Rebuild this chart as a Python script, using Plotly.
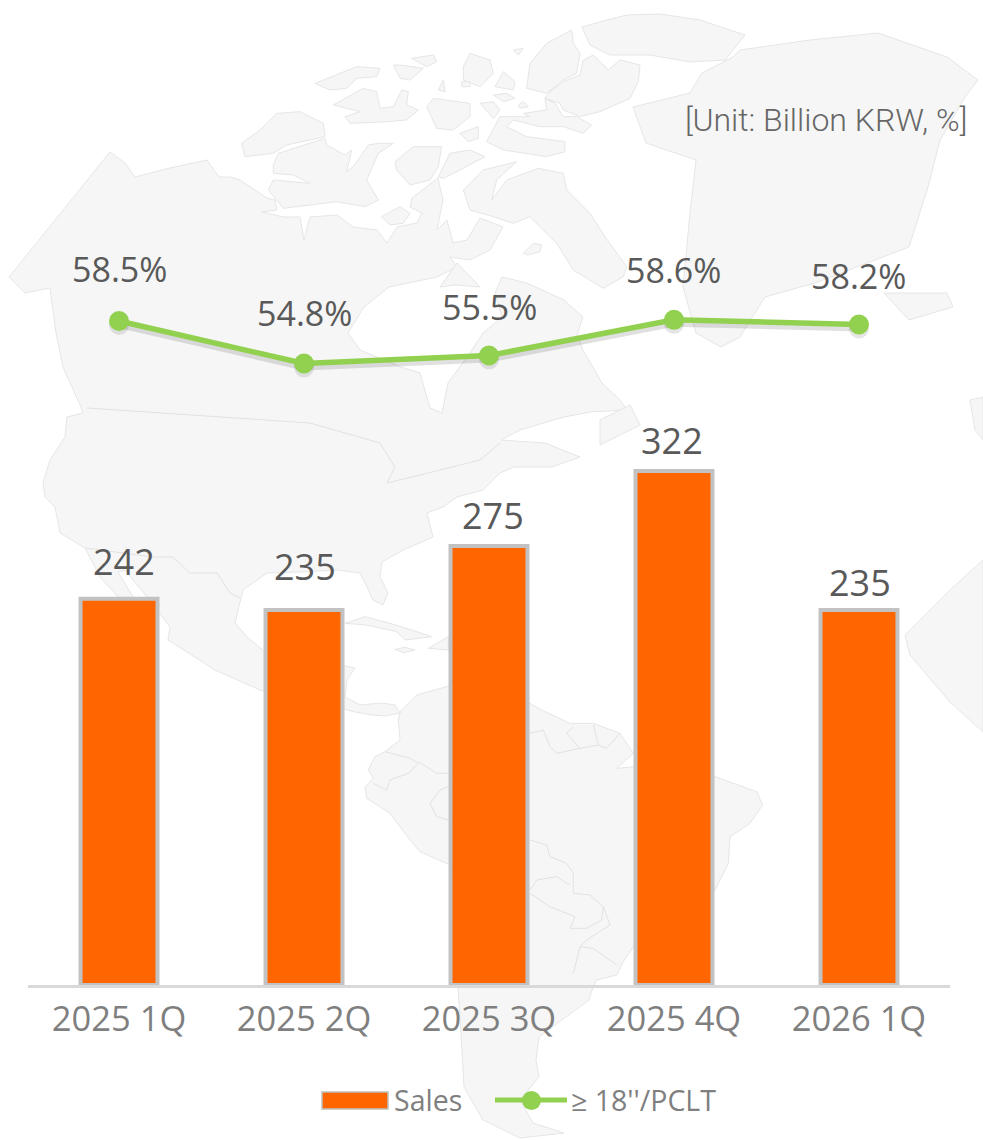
import plotly.graph_objects as go

W, H = 983, 1140

quarters = ["2025 1Q", "2025 2Q", "2025 3Q", "2025 4Q", "2026 1Q"]
sales = [242, 235, 275, 322, 235]
share = [58.5, 54.8, 55.5, 58.6, 58.2]
share_text = ["58.5%", "54.8%", "55.5%", "58.6%", "58.2%"]

# label placement, in pixels from the mark
sales_dx = [5, 1, 4, -2, 1]
sales_dy = [37, 43, 31, 31, 27]
share_dy = [52, 51, 48, 50, 48]

TEXT = "Open Sans"
DARK = "#595959"
GREY = "#7f7f7f"
ORANGE = "#ff6600"
GREEN = "#92d050"


# Decorative backdrop map. Outlines are page pixels, or read in 3x crops of the page.
def crop(points, ox, oy):
    return [(ox + x / 3, oy + y / 3) for x, y in points]


def arctic(points):
    return crop(points, 230, 10)


def south(points):
    return crop(points, 340, 570)


map_land = [
    # North and Central America
    [(110,152),(125,163),(135,177),(170,168),(207,160),(219,177),(230,177),(240,180),(267,198),(275,200),(277,210),(262,212),
     (283,217),(300,217),(304,240),(310,217),(337,215),(353,227),(377,230),(387,243),(397,227),(417,223),(422,213),(410,207),
     (412,198),(438,178),(443,200),(437,230),(447,220),(453,243),(467,240),(480,218),(503,227),(490,250),(470,260),(450,257),
     (457,267),(437,277),(389,287),(364,307),(348,333),(360,350),(401,367),(420,373),(430,408),(442,413),
     (448,383),(470,353),(483,333),(502,317),(495,293),(502,277),(527,283),(564,300),(583,317),(577,335),(583,350),(602,383),
     (620,400),(627,410),(590,412),(564,417),(520,430),(501,440),(545,443),(580,457),(552,467),(514,467),(500,473),(483,490),
     (457,497),(443,507),(427,513),(433,537),(403,550),(382,562),(380,577),(388,593),(383,605),(373,600),(367,587),(360,573),
     (337,570),(300,572),(267,573),(243,590),(238,610),(235,623),(247,637),(263,650),(300,670),(330,668),(340,665),(355,668),
     (347,680),(345,697),(360,705),(382,703),(395,705),(400,713),(385,716),(372,715),(355,712),(340,708),(300,703),(260,690),
     (215,670),(168,640),(170,627),(147,597),(125,570),(118,572),(135,600),(150,632),(130,610),(100,577),(85,548),(60,533),
     (55,507),(45,497),(43,483),(50,460),(65,437),(67,417),(83,413),(81,407),(63,367),(56,333),(50,288),(25,293),(9,277)],
    # South America
    south([(175,450),(180,430),(185,420),(230,375),(320,350),(450,340),(570,400),(605,420),(690,460),(760,460),(840,490),(880,550),
           (830,595),(885,590),(1000,600),(1125,620),(1250,665),(1268,705),(1230,760),(1170,800),(1165,880),(1125,960),(1100,1000),
           (1000,1080),(880,1130),(850,1175),(830,1215),(770,1230)])
    + [(592,990),(589,1000),(539,1037),(536,1060),(539,1077),(520,1100),(533,1123),(564,1133),(520,1138),(483,1120),
       (464,1087),(461,1033),(458,987)]
    + south([(330,885),(240,845),(210,810),(150,730),(80,685),(75,650),(100,625),(85,600),(105,560),(135,545),(180,510)]),
    # Greenland
    [(740,50),(810,40),(878,33),(947,57),(978,80),(965,97),(940,140),(928,187),(909,247),(815,283),(765,297),(740,337),(721,347),
     (696,333),(683,287),(690,213),(696,160),(646,143),(633,107),(690,93),(702,73),(733,57)],
    # Arctic islands
    arctic([(35,400),(90,360),(140,310),(210,305),(280,340),(285,380),(170,405),(130,430),(45,440)]),
    arctic([(130,465),(145,430),(285,385),(290,405),(345,435),(365,420),(350,485),(370,470),(415,405),(445,400),(490,400),(445,430),
            (410,510),(445,570),(405,590),(320,575),(160,595),(115,540),(130,510),(240,520),(190,495),(130,490)]),
    arctic([(495,455),(550,410),(635,410),(625,470),(600,510),(540,525),(500,480)]),
    arctic([(625,500),(660,430),(720,420),(765,440),(690,480),(640,505)]),
    arctic([(700,540),(760,480),(860,455),(800,510),(785,570),(830,510),(925,475),(1000,490),(1010,540),(1080,610),(1125,680),
            (1190,770),(1180,800),(1120,835),(1030,780),(980,700),(900,620),(850,640),(790,620),(720,600)]),
    arctic([(255,220),(380,170),(450,175),(440,200),(380,205),(350,235),(300,240)]),
    arctic([(310,285),(400,235),(440,245),(450,295),(490,290),(515,240),(535,245),(530,285),(565,300),(530,330),(470,335),(360,340),
            (345,320),(390,305)]),
    arctic([(490,165),(510,165),(580,175),(540,210),(510,205)]),
    arctic([(545,145),(610,135),(620,155),(590,170)]),
    arctic([(775,385),(810,320),(900,320),(880,310),(950,300),(945,265),(975,280),(1000,320),(1040,320),(1085,345),(1060,370),
            (1000,350),(930,350),(850,330),(830,350),(890,380),(1005,395),(1005,425),(950,440),(820,420),(770,395)]),
    arctic([(590,290),(610,265),(720,280),(720,320),(670,360),(620,355)]),
    arctic([(690,370),(745,350),(745,385),(715,395)]),
    arctic([(750,280),(790,275),(810,300),(790,325)]),
    arctic([(890,235),(900,160),(950,100),(1025,60),(1030,100),(1050,130),(1040,190),(1000,210),(950,250)]),
    arctic([(960,245),(1000,215),(1050,195),(1060,150),(1090,135),(1135,180),(1170,150),(1230,165),(1225,215),(1200,265),(1110,305),
            (1050,320),(1000,300),(990,280),(945,265)]),
    [(582,27),(607,20),(627,15),(660,14),(700,20),(745,35),(725,60),(690,62),(650,55),(610,55),(590,45)],
    arctic([(700,170),(720,130),(780,150),(790,190),(750,230),(700,210)]),
    arctic([(795,230),(820,185),(855,215),(850,240)]),
    arctic([(790,255),(830,250),(855,265),(820,275)]),
    arctic([(625,240),(640,210),(645,245)]),
    arctic([(695,215),(720,215),(720,230),(695,230)]),
    arctic([(850,120),(880,115),(865,135)]),
    arctic([(865,285),(880,275),(895,290),(870,295)]),
    arctic([(455,620),(510,590),(540,610),(520,640),(480,645)]),
    arctic([(880,730),(910,700),(935,705),(930,725),(895,735)]),
    [(440,287),(457,263),(480,287),(455,285)],
    # Newfoundland, Iceland
    [(600,420),(630,405),(640,425),(600,445)],
    [(884,293),(947,293),(953,307),(909,320)],
    # Caribbean
    south([(15,160),(75,140),(150,160),(215,180),(275,200),(195,210),(170,185),(80,165)]),
    south([(165,238),(195,232),(225,240),(190,248)]),
    south([(265,235),(325,200),(325,240)]),
    # Africa and Europe at the right edge
    [(905,635),(950,590),(983,560),(983,732),(950,702),(910,655)],
    [(970,400),(983,397),(983,440),(975,430)],
]
map_borders = [
    [(87,408),(310,423),(380,443),(395,467),(387,483),(420,475),(480,460),(500,443)],
    [(85,548),(153,557),(173,557),(190,573),(217,573),(230,593),(240,598)],
    south([(135,545),(210,565),(235,580),(205,610),(150,630),(140,660),(100,640)]),
    south([(235,575),(290,610),(325,610)]),
    south([(325,650),(300,660),(270,700),(290,740),(325,750)]),
    south([(570,810),(620,825),(630,860),(680,880),(700,910),(700,970),(750,975),(790,1010),(785,1050),(740,1075),(690,1075),
           (705,1040),(630,1010),(570,970)]),
    south([(570,960),(590,930),(650,920),(690,945)]),
    south([(790,1010),(810,1065),(740,1110),(720,1130),(760,1135),(830,1185)]),
    south([(720,1130),(700,1210)]),
    south([(570,490),(610,480),(630,530),(650,550),(720,535),(680,490),(700,470)]),
    south([(720,535),(775,525),(800,535),(840,490)]),
    south([(760,465),(775,525)]),
]


def to_path(points, close=True):
    pts = [f"{x / W:.5f},{1 - y / H:.5f}" for x, y in points]
    return "M" + "L".join(pts) + ("Z" if close else "")


shapes = []
for poly in map_land:
    shapes.append(dict(type="path", path=to_path(poly), xref="paper", yref="paper", layer="below",
                       fillcolor="#f6f6f6", line=dict(color="#e6e6e6", width=1)))
for border in map_borders:
    shapes.append(dict(type="path", path=to_path(border, False), xref="paper", yref="paper", layer="below",
                       line=dict(color="#e2e2e2", width=1)))


def px_x(x):
    return x / W


def px_y(y):
    return 1 - y / H


# Hand-placed legend
shapes += [
    dict(type="rect", xref="paper", yref="paper", x0=px_x(322), x1=px_x(388), y0=px_y(1109), y1=px_y(1092),
         fillcolor=ORANGE, line=dict(color="#bfbfbf", width=1.5)),
    dict(type="line", xref="paper", yref="paper", x0=px_x(495), x1=px_x(567), y0=px_y(1100), y1=px_y(1100),
         line=dict(color=GREEN, width=5)),
    dict(type="circle", xref="paper", yref="paper", x0=px_x(522), x1=px_x(541), y0=px_y(1110), y1=px_y(1091),
         fillcolor=GREEN, line=dict(color=GREEN, width=0)),
]

fig = go.Figure()
fig.add_bar(x=quarters, y=sales, name="Sales", width=0.416, yaxis="y",
            marker=dict(color=ORANGE, line=dict(color="#c2c2c2", width=4)), showlegend=False)
# soft shadow: same series on an axis shifted a few pixels, drawn beneath the line
fig.add_scatter(x=quarters, y=share, mode="lines+markers", yaxis="y2", hoverinfo="skip", showlegend=False,
                line=dict(color="rgba(0,0,0,0.12)", width=6), marker=dict(size=20, color="rgba(0,0,0,0.10)"))
fig.add_scatter(x=quarters, y=share, mode="lines+markers", name="≥ 18''/PCLT", yaxis="y3", showlegend=False,
                line=dict(color=GREEN, width=5.5), marker=dict(size=20, color=GREEN))

annotations = []
for q, v, dx, dy in zip(quarters, sales, sales_dx, sales_dy):
    annotations.append(dict(x=q, y=v, xref="x", yref="y", text=str(v), showarrow=False, xshift=dx, yshift=dy,
                            yanchor="middle", font=dict(family=TEXT, size=36, color=DARK)))
for q, v, t, dy in zip(quarters, share, share_text, share_dy):
    annotations.append(dict(x=q, y=v, xref="x", yref="y3", text=t, showarrow=False, yshift=dy,
                            yanchor="middle", font=dict(family=TEXT, size=34, color=DARK)))
annotations += [
    dict(x=px_x(969), y=px_y(120), xref="paper", yref="paper", xanchor="right", yanchor="middle", showarrow=False,
         text="[Unit: Billion KRW, %]", font=dict(family="Roboto", size=32, color="#666666", weight=300)),
    dict(x=px_x(392), y=px_y(1100), xref="paper", yref="paper", xanchor="left", yanchor="middle", showarrow=False,
         text="Sales", font=dict(family=TEXT, size=28.5, color=GREY)),
    dict(x=px_x(569), y=px_y(1100), xref="paper", yref="paper", xanchor="left", yanchor="middle", showarrow=False,
         text="≥ 18''/PCLT", font=dict(family=TEXT, size=28.5, color=GREY)),
]

PLOT_TOP, PLOT_BOTTOM = 60, 985
SALES_SCALE = 1.596
SHARE_SCALE = 11.5
y_top = (PLOT_BOTTOM - PLOT_TOP) / SALES_SCALE
share_bottom = 58.5 - (PLOT_BOTTOM - 321) / SHARE_SCALE
share_top = 58.5 + (321 - PLOT_TOP) / SHARE_SCALE
shift = 4 / SHARE_SCALE
domain = [1 - PLOT_BOTTOM / H, 1 - PLOT_TOP / H]
hidden = dict(domain=domain, showgrid=False, zeroline=False, showticklabels=False, ticks="", showline=False)

fig.update_layout(
    width=W, height=H, autosize=False,
    margin=dict(l=0, r=0, t=0, b=0),
    paper_bgcolor="white", plot_bgcolor="rgba(0,0,0,0)",
    showlegend=False, bargap=0.58,
    shapes=shapes, annotations=annotations,
    xaxis=dict(domain=[28 / W, 950 / W], type="category", categoryorder="array", categoryarray=quarters,
               range=[-0.492, 4.492], showgrid=False, zeroline=False, showline=True, linecolor="#d9d9d9", linewidth=3,
               ticks="", ticklabelstandoff=2, tickfont=dict(family=TEXT, size=34.5, color=GREY)),
    yaxis=dict(range=[0, y_top], **hidden),
    yaxis2=dict(range=[share_bottom + shift, share_top + shift], overlaying="y", **hidden),
    yaxis3=dict(range=[share_bottom, share_top], overlaying="y", **hidden),
)

fig.write_html("out.html", config={"displayModeBar": False}, post_script="document.body.style.margin='0';")
